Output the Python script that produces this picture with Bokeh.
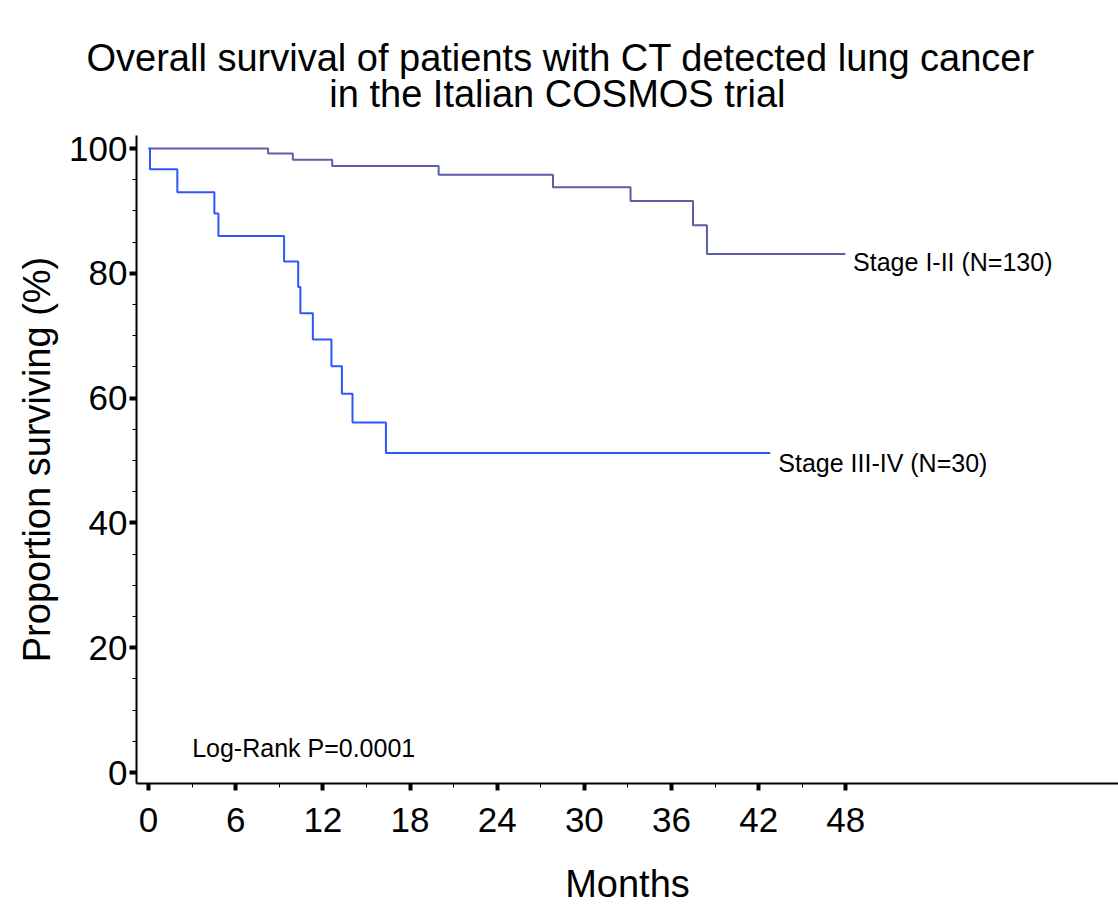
from bokeh.plotting import figure
from bokeh.models import FixedTicker, Range1d, Title
from bokeh.core.properties import value
from bokeh.embed import file_html
from bokeh.resources import INLINE

# ---- data ----
stage12_months = [0, 8.23, 9.93, 12.64, 19.97, 27.84, 33.18, 37.48, 38.44, 47.97]
stage12_surv = [100, 99.2, 98.2, 97.2, 95.8, 93.8, 91.6, 87.7, 83.1, 83.1]

stage34_months = [0, 0.1, 1.98, 4.53, 4.81, 9.33, 10.30, 10.45, 11.31, 12.59, 13.31, 14.04, 16.34, 42.8]
stage34_surv = [100, 96.7, 93.0, 89.6, 86.0, 81.9, 77.8, 73.6, 69.4, 65.1, 60.7, 56.1, 51.2, 51.2]

x_major = [0, 6, 12, 18, 24, 30, 36, 42, 48]
x_minor = [3, 9, 15, 21, 27, 33, 39, 45]
y_major = [0, 20, 40, 60, 80, 100]
y_minor = [5, 10, 15, 25, 30, 35, 45, 50, 55, 65, 70, 75, 85, 90, 95]

label12 = "Stage I-II (N=130)"
label34 = "Stage III-IV (N=30)"
logrank = "Log-Rank  P=0.0001"
title1 = "Overall survival of patients with CT detected lung cancer"
title2 = "in the Italian COSMOS trial"

FONT = "Liberation Sans"

p = figure(width=1118, height=907, output_backend="svg", toolbar_location=None,
           x_range=Range1d(-0.83, 66.77), y_range=Range1d(-1.76, 102.1),
           min_border_left=136, min_border_right=0, min_border_top=135,
           min_border_bottom=123)
p.outline_line_color = None
p.xgrid.visible = False
p.ygrid.visible = False
p.background_fill_color = "white"
p.border_fill_color = "white"

# two-line title; the second line is indented with no-break spaces so it is centred
indent = "\u00a0" * 23
p.add_layout(Title(text=title1 + "\n" + indent + title2, align="left", offset=-50,
                   text_font=FONT, text_font_size="38px", text_font_style="normal",
                   text_color="black", text_line_height=0.88, standoff=40), "above")

# survival curves
p.step(stage12_months, stage12_surv, mode="after", line_color="#5b5fa8", line_width=2)
p.step(stage34_months, stage34_surv, mode="after", line_color="#2f55ff", line_width=2)

# annotations
for txt, xx, yy in ((label12, 48.5, 81.8), (label34, 43.35, 49.6), (logrank, 3.0, 4.0)):
    p.text(x=[xx], y=[yy], text=[txt], text_font=value(FONT),
           text_font_size="25px", text_baseline="middle", text_align="left",
           text_color="black")

# axes
xa = p.xaxis[0]
xa.ticker = FixedTicker(ticks=x_major, minor_ticks=x_minor)
xa.axis_label = "Months"
ya = p.yaxis[0]
ya.ticker = FixedTicker(ticks=y_major, minor_ticks=y_minor)
ya.axis_label = "Proportion surviving (%)"

for ax in (xa, ya):
    ax.axis_line_color = "black"
    ax.axis_line_width = 2
    ax.major_tick_line_color = "black"
    ax.major_tick_line_width = 4
    ax.major_tick_in = 0
    ax.major_tick_out = 7
    ax.minor_tick_line_color = "black"
    ax.minor_tick_line_width = 1
    ax.minor_tick_in = 0
    ax.minor_tick_out = 4
    ax.major_label_text_font = FONT
    ax.major_label_text_font_size = "35px"
    ax.major_label_text_color = "black"
    ax.axis_label_text_font = FONT
    ax.axis_label_text_font_size = "38px"
    ax.axis_label_text_font_style = "normal"
    ax.axis_label_text_color = "black"

xa.major_label_standoff = 17
xa.axis_label_standoff = 28
ya.major_label_standoff = 2
ya.axis_label_standoff = 8

open("out.html", "w").write(file_html(p, INLINE))
